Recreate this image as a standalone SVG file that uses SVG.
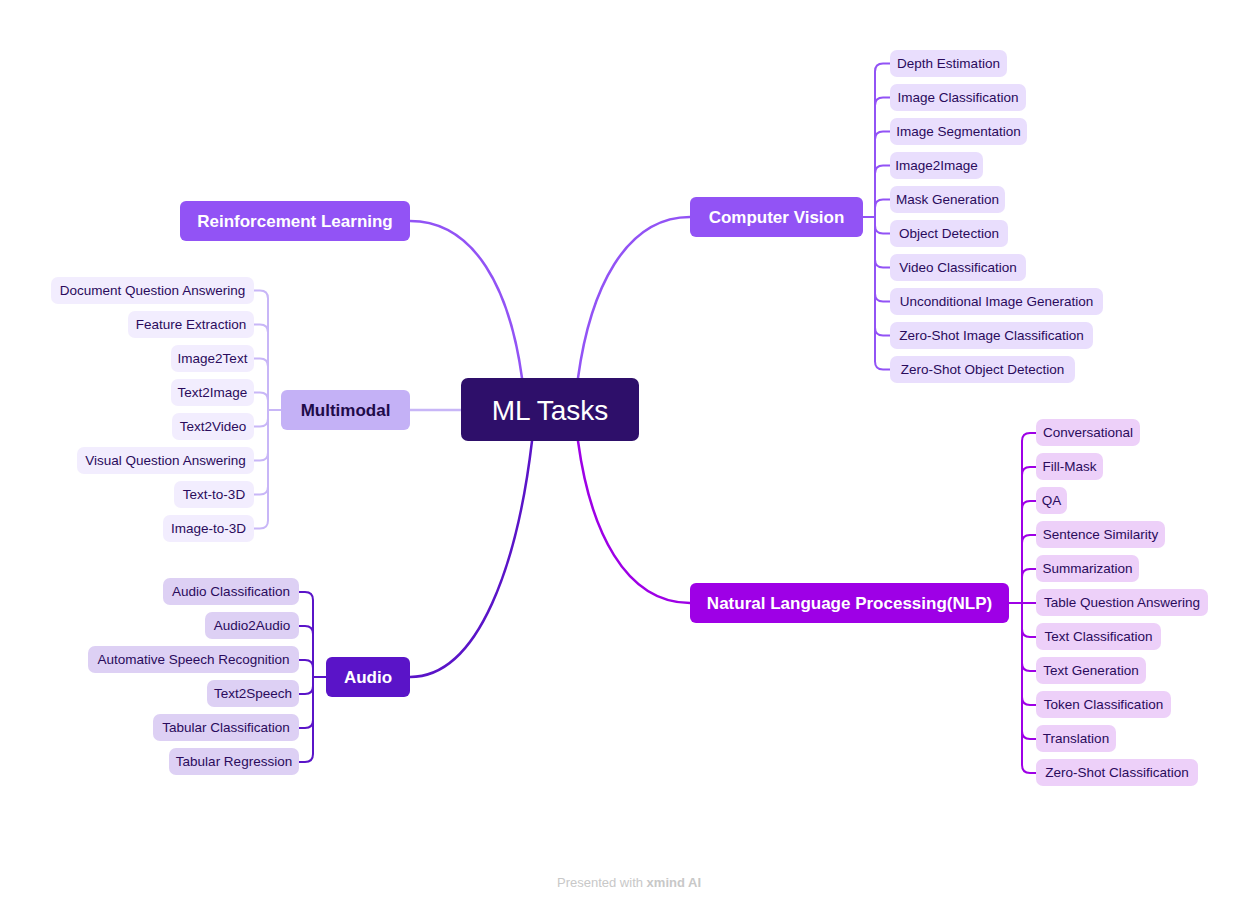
<svg xmlns="http://www.w3.org/2000/svg" width="1259" height="907" viewBox="0 0 1259 907">
<style>
text{font-family:"Liberation Sans",Arial,sans-serif;dominant-baseline:central;text-anchor:middle}
.leaf{font-size:13.5px;fill:#2a0b5c}
.br{font-size:17px;font-weight:bold;fill:#fff}
.conn{fill:none;stroke-width:2.5;stroke-linecap:round}
.brk{fill:none;stroke-width:2;stroke-linecap:round}
.cv rect{fill:#e9defd}
.mm rect{fill:#f2edfe}
.au rect{fill:#ddd0f4}
.nlp rect{fill:#edd0f9}
</style>
<rect width="1259" height="907" fill="#fff"/>
<g id="connectors">
<path class="conn" stroke="#9253f5" d="M410,221 C475,221 510,290 522,378"/>
<path class="conn" stroke="#9253f5" d="M690,217 C625,217 590,290 578,378"/>
<path class="conn" stroke="#c8b6f7" d="M410,410 H461"/>
<path class="conn" stroke="#5a14c8" d="M410,677 C480,677 518,560 532,441"/>
<path class="conn" stroke="#9e00e6" d="M690,603 C625,603 590,530 578,441"/>
<g class="brk" stroke="#9253f5">
<path d="M863,217 H875"/>
<path d="M875,217 V71.5 Q875,63.5 883,63.5 H890"/>
<path d="M875,217 V105.5 Q875,97.5 883,97.5 H890"/>
<path d="M875,217 V139.5 Q875,131.5 883,131.5 H890"/>
<path d="M875,217 V173.5 Q875,165.5 883,165.5 H890"/>
<path d="M875,217 V207.5 Q875,199.5 883,199.5 H890"/>
<path d="M875,217 V225.5 Q875,233.5 883,233.5 H890"/>
<path d="M875,217 V259.5 Q875,267.5 883,267.5 H890"/>
<path d="M875,217 V293.5 Q875,301.5 883,301.5 H890"/>
<path d="M875,217 V327.5 Q875,335.5 883,335.5 H890"/>
<path d="M875,217 V361.5 Q875,369.5 883,369.5 H890"/>
</g>
<g class="brk" stroke="#c8b6f7">
<path d="M281,410 H268"/>
<path d="M268,410 V298.5 Q268,290.5 260,290.5 H254"/>
<path d="M268,410 V332.5 Q268,324.5 260,324.5 H254"/>
<path d="M268,410 V366.5 Q268,358.5 260,358.5 H254"/>
<path d="M268,410 V400.5 Q268,392.5 260,392.5 H254"/>
<path d="M268,410 V418.5 Q268,426.5 260,426.5 H254"/>
<path d="M268,410 V452.5 Q268,460.5 260,460.5 H254"/>
<path d="M268,410 V486.5 Q268,494.5 260,494.5 H254"/>
<path d="M268,410 V520.5 Q268,528.5 260,528.5 H254"/>
</g>
<g class="brk" stroke="#5a14c8">
<path d="M326,677 H313"/>
<path d="M313,677 V600 Q313,592 305,592 H299"/>
<path d="M313,677 V634 Q313,626 305,626 H299"/>
<path d="M313,677 V668 Q313,660 305,660 H299"/>
<path d="M313,677 V686 Q313,694 305,694 H299"/>
<path d="M313,677 V720 Q313,728 305,728 H299"/>
<path d="M313,677 V754 Q313,762 305,762 H299"/>
</g>
<g class="brk" stroke="#9e00e6">
<path d="M1009,603 H1036"/>
<path d="M1022,603 V441 Q1022,433 1030,433 H1036"/>
<path d="M1022,603 V475 Q1022,467 1030,467 H1036"/>
<path d="M1022,603 V509 Q1022,501 1030,501 H1036"/>
<path d="M1022,603 V543 Q1022,535 1030,535 H1036"/>
<path d="M1022,603 V577 Q1022,569 1030,569 H1036"/>
<path d="M1022,603 V629 Q1022,637 1030,637 H1036"/>
<path d="M1022,603 V663 Q1022,671 1030,671 H1036"/>
<path d="M1022,603 V697 Q1022,705 1030,705 H1036"/>
<path d="M1022,603 V731 Q1022,739 1030,739 H1036"/>
<path d="M1022,603 V765 Q1022,773 1030,773 H1036"/>
</g>
</g>
<g id="root"><rect x="461" y="378" width="178" height="63" rx="7" fill="#2e0f6a"/><text x="550" y="410" font-size="28" fill="#fff">ML Tasks</text></g>
<g id="reinforcement"><rect x="180" y="201" width="230" height="40" rx="6" fill="#9253f5"/><text class="br" x="295" y="221">Reinforcement Learning</text></g>
<g id="cv"><rect x="690" y="197" width="173" height="40" rx="6" fill="#9253f5"/><text class="br" x="776.5" y="217">Computer Vision</text></g>
<g id="multimodal"><rect x="281" y="390" width="129" height="40" rx="6" fill="#c4b1f6"/><text class="br" x="345.5" y="410" style="fill:#1f0b4a">Multimodal</text></g>
<g id="audio"><rect x="326" y="657" width="84" height="40" rx="6" fill="#5a14c8"/><text class="br" x="368" y="677">Audio</text></g>
<g id="nlp"><rect x="690" y="583" width="319" height="40" rx="6" fill="#9e00e6"/><text class="br" x="849.5" y="603">Natural Language Processing(NLP)</text></g>
<g class="cv">
<g id="cv1"><rect x="890" y="50" width="117" height="27" rx="7"/><text class="leaf" x="948.5" y="63.5">Depth Estimation</text></g>
<g id="cv2"><rect x="890" y="84" width="136" height="27" rx="7"/><text class="leaf" x="958" y="97.5">Image Classification</text></g>
<g id="cv3"><rect x="890" y="118" width="137" height="27" rx="7"/><text class="leaf" x="958.5" y="131.5">Image Segmentation</text></g>
<g id="cv4"><rect x="890" y="152" width="93" height="27" rx="7"/><text class="leaf" x="936.5" y="165.5">Image2Image</text></g>
<g id="cv5"><rect x="890" y="186" width="115" height="27" rx="7"/><text class="leaf" x="947.5" y="199.5">Mask Generation</text></g>
<g id="cv6"><rect x="890" y="220" width="118" height="27" rx="7"/><text class="leaf" x="949" y="233.5">Object Detection</text></g>
<g id="cv7"><rect x="890" y="254" width="136" height="27" rx="7"/><text class="leaf" x="958" y="267.5">Video Classification</text></g>
<g id="cv8"><rect x="890" y="288" width="213" height="27" rx="7"/><text class="leaf" x="996.5" y="301.5">Unconditional Image Generation</text></g>
<g id="cv9"><rect x="890" y="322" width="203" height="27" rx="7"/><text class="leaf" x="991.5" y="335.5">Zero-Shot Image Classification</text></g>
<g id="cv10"><rect x="890" y="356" width="185" height="27" rx="7"/><text class="leaf" x="982.5" y="369.5">Zero-Shot Object Detection</text></g>
</g>
<g class="mm">
<g id="mm1"><rect x="51" y="277" width="203" height="27" rx="7"/><text class="leaf" x="152.5" y="290.5">Document Question Answering</text></g>
<g id="mm2"><rect x="128" y="311" width="126" height="27" rx="7"/><text class="leaf" x="191" y="324.5">Feature Extraction</text></g>
<g id="mm3"><rect x="171" y="345" width="83" height="27" rx="7"/><text class="leaf" x="212.5" y="358.5">Image2Text</text></g>
<g id="mm4"><rect x="171" y="379" width="83" height="27" rx="7"/><text class="leaf" x="212.5" y="392.5">Text2Image</text></g>
<g id="mm5"><rect x="172" y="413" width="82" height="27" rx="7"/><text class="leaf" x="213" y="426.5">Text2Video</text></g>
<g id="mm6"><rect x="77" y="447" width="177" height="27" rx="7"/><text class="leaf" x="165.5" y="460.5">Visual Question Answering</text></g>
<g id="mm7"><rect x="174" y="481" width="80" height="27" rx="7"/><text class="leaf" x="214" y="494.5">Text-to-3D</text></g>
<g id="mm8"><rect x="163" y="515" width="91" height="27" rx="7"/><text class="leaf" x="208.5" y="528.5">Image-to-3D</text></g>
</g>
<g class="au">
<g id="au1"><rect x="163" y="578" width="136" height="27" rx="7"/><text class="leaf" x="231" y="591.5">Audio Classification</text></g>
<g id="au2"><rect x="205" y="612" width="94" height="27" rx="7"/><text class="leaf" x="252" y="625.5">Audio2Audio</text></g>
<g id="au3"><rect x="88" y="646" width="211" height="27" rx="7"/><text class="leaf" x="193.5" y="659.5">Automative Speech Recognition</text></g>
<g id="au4"><rect x="207" y="680" width="92" height="27" rx="7"/><text class="leaf" x="253" y="693.5">Text2Speech</text></g>
<g id="au5"><rect x="153" y="714" width="146" height="27" rx="7"/><text class="leaf" x="226" y="727.5">Tabular Classification</text></g>
<g id="au6"><rect x="169" y="748" width="130" height="27" rx="7"/><text class="leaf" x="234" y="761.5">Tabular Regression</text></g>
</g>
<g class="nlp">
<g id="n1"><rect x="1036" y="419" width="104" height="27" rx="7"/><text class="leaf" x="1088" y="432.5">Conversational</text></g>
<g id="n2"><rect x="1036" y="453" width="67" height="27" rx="7"/><text class="leaf" x="1069.5" y="466.5">Fill-Mask</text></g>
<g id="n3"><rect x="1036" y="487" width="31" height="27" rx="7"/><text class="leaf" x="1051.5" y="500.5">QA</text></g>
<g id="n4"><rect x="1036" y="521" width="129" height="27" rx="7"/><text class="leaf" x="1100.5" y="534.5">Sentence Similarity</text></g>
<g id="n5"><rect x="1036" y="555" width="103" height="27" rx="7"/><text class="leaf" x="1087.5" y="568.5">Summarization</text></g>
<g id="n6"><rect x="1036" y="589" width="172" height="27" rx="7"/><text class="leaf" x="1122" y="602.5">Table Question Answering</text></g>
<g id="n7"><rect x="1036" y="623" width="125" height="27" rx="7"/><text class="leaf" x="1098.5" y="636.5">Text Classification</text></g>
<g id="n8"><rect x="1036" y="657" width="110" height="27" rx="7"/><text class="leaf" x="1091" y="670.5">Text Generation</text></g>
<g id="n9"><rect x="1036" y="691" width="135" height="27" rx="7"/><text class="leaf" x="1103.5" y="704.5">Token Classification</text></g>
<g id="n10"><rect x="1036" y="725" width="80" height="27" rx="7"/><text class="leaf" x="1076" y="738.5">Translation</text></g>
<g id="n11"><rect x="1036" y="759" width="162" height="27" rx="7"/><text class="leaf" x="1117" y="772.5">Zero-Shot Classification</text></g>
</g>
<text x="629" y="882" font-size="13" fill="#c8c8c8">Presented with <tspan font-weight="bold">xmind AI</tspan></text>
</svg>
